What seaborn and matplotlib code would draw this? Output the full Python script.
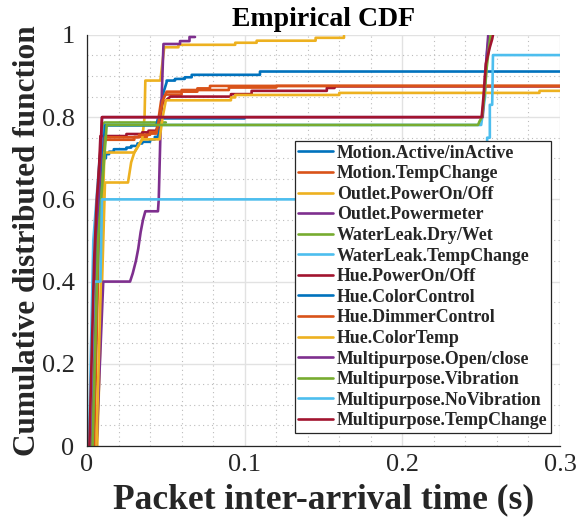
import matplotlib
matplotlib.use("Agg")
import matplotlib.pyplot as plt
from matplotlib.lines import Line2D
from matplotlib.ticker import MultipleLocator, FuncFormatter
import pandas as pd
import seaborn as sns

# ---- series names (legend order = draw order) ----
series_names = [
    "Motion.Active/inActive",
    "Motion.TempChange",
    "Outlet.PowerOn/Off",
    "Outlet.Powermeter",
    "WaterLeak.Dry/Wet",
    "WaterLeak.TempChange",
    "Hue.PowerOn/Off",
    "Hue.ColorControl",
    "Hue.DimmerControl",
    "Hue.ColorTemp",
    "Multipurpose.Open/close",
    "Multipurpose.Vibration",
    "Multipurpose.NoVibration",
    "Multipurpose.TempChange",
]

# ---- CDF vertices (inter-arrival time in s, cumulative fraction) ----
motion_active_t = [0.003, 0.006, 0.0105, 0.012, 0.012, 0.014, 0.014, 0.017, 0.017, 0.025, 0.025,
                   0.028, 0.028, 0.032, 0.032, 0.035, 0.035, 0.040, 0.040, 0.043, 0.043, 0.045,
                   0.0465, 0.0485, 0.0505, 0.0505, 0.0558, 0.0558, 0.062, 0.062, 0.0664, 0.0664,
                   0.1097, 0.1097, 0.3]
motion_active_F = [0.0, 0.5, 0.70, 0.70, 0.71, 0.71, 0.716, 0.716, 0.722, 0.722, 0.726,
                   0.726, 0.730, 0.730, 0.736, 0.736, 0.740, 0.740, 0.746, 0.746, 0.752, 0.752,
                   0.80, 0.86, 0.885, 0.889, 0.889, 0.893, 0.893, 0.897, 0.897, 0.903,
                   0.903, 0.911, 0.911]

motion_temp_t = [0.004, 0.007, 0.0105, 0.030, 0.030, 0.038, 0.038, 0.044, 0.0455, 0.047, 0.050,
                 0.060, 0.060, 0.090, 0.090, 0.120, 0.120, 0.3]
motion_temp_F = [0.0, 0.5, 0.745, 0.745, 0.752, 0.752, 0.760, 0.760, 0.80, 0.84, 0.855,
                 0.855, 0.866, 0.866, 0.872, 0.872, 0.876, 0.876]

outlet_onoff_t = [0.0065, 0.0114, 0.026, 0.028, 0.030, 0.035, 0.0365, 0.037, 0.0465, 0.049,
                  0.058, 0.058, 0.094, 0.094, 0.1076, 0.1076, 0.145, 0.145, 0.163, 0.163]
outlet_onoff_F = [0.0, 0.641, 0.641, 0.69, 0.714, 0.746, 0.80, 0.889, 0.889, 0.970,
                  0.970, 0.976, 0.976, 0.981, 0.981, 0.986, 0.986, 0.993, 0.993, 0.998]

outlet_power_t = [0.006, 0.0103, 0.0273, 0.029, 0.031, 0.0325, 0.034, 0.0355, 0.037, 0.045,
                  0.0455, 0.0465, 0.0485, 0.059, 0.059, 0.065, 0.065, 0.0685]
outlet_power_F = [0.0, 0.40, 0.40, 0.42, 0.45, 0.48, 0.52, 0.55, 0.571, 0.571,
                  0.60, 0.75, 0.978, 0.978, 0.985, 0.985, 0.995, 0.995]

water_drywet_t = [0.004, 0.0075, 0.011, 0.050]
water_drywet_F = [0.0, 0.55, 0.787, 0.787]

water_temp_t = [0.0012, 0.004, 0.008, 0.0115, 0.250, 0.2525, 0.2535, 0.255]
water_temp_F = [0.0, 0.5, 0.7, 0.781, 0.781, 0.85, 0.95, 1.0]

hue_onoff_t = [0.002, 0.005, 0.007, 0.0085, 0.025, 0.025, 0.035, 0.035, 0.039, 0.039, 0.044,
               0.046, 0.048, 0.053, 0.0913, 0.0913, 0.1044, 0.1044, 0.1521, 0.1521, 0.157,
               0.157, 0.3]
hue_onoff_F = [0.0, 0.45, 0.62, 0.754, 0.754, 0.759, 0.759, 0.763, 0.763, 0.767, 0.767,
               0.80, 0.835, 0.850, 0.850, 0.856, 0.856, 0.864, 0.864, 0.871, 0.871,
               0.875, 0.875]

hue_color_t = [0.003, 0.0065, 0.0115, 0.044, 0.045, 0.100]
hue_color_F = [0.0, 0.55, 0.780, 0.780, 0.797, 0.797]

hue_dimmer_t = [0.0045, 0.0075, 0.0115, 0.033, 0.033, 0.040, 0.040, 0.044, 0.046, 0.048, 0.0505,
                0.070, 0.070, 0.078, 0.078, 0.3]
hue_dimmer_F = [0.0, 0.5, 0.751, 0.751, 0.757, 0.757, 0.764, 0.764, 0.80, 0.84, 0.862,
                0.862, 0.870, 0.870, 0.876, 0.876]

hue_ctemp_t = [0.006, 0.0095, 0.011, 0.030, 0.035, 0.046, 0.048, 0.050, 0.0913, 0.0913, 0.094,
               0.094, 0.160, 0.160, 0.287, 0.287, 0.3]
hue_ctemp_F = [0.0, 0.5, 0.714, 0.714, 0.746, 0.746, 0.80, 0.841, 0.841, 0.848, 0.848,
               0.854, 0.854, 0.859, 0.859, 0.864, 0.864]

mp_open_t = [0.0025, 0.0055, 0.008, 0.0095, 0.251, 0.2525, 0.2545]
mp_open_F = [0.0, 0.5, 0.65, 0.80, 0.80, 0.9, 1.0]

mp_vib_t = [0.0035, 0.007, 0.0125, 0.248, 0.249, 0.2505, 0.252, 0.2535, 0.255, 0.256]
mp_vib_F = [0.0, 0.5, 0.781, 0.781, 0.79, 0.80, 0.85, 0.92, 0.97, 1.0]

mp_novib_t = [0.0015, 0.0045, 0.0085, 0.0095, 0.2538, 0.2538, 0.2555, 0.2555, 0.257, 0.2575, 0.3]
mp_novib_F = [0.0, 0.4, 0.4, 0.6, 0.6, 0.75, 0.75, 0.83, 0.83, 0.951, 0.951]

mp_temp_t = [0.0015, 0.0045, 0.0062, 0.0085, 0.0095, 0.2503, 0.2515, 0.253, 0.2555, 0.257, 0.2575]
mp_temp_F = [0.0, 0.45, 0.6, 0.72, 0.80, 0.80, 0.85, 0.93, 0.97, 0.99, 1.0]

series_t = [motion_active_t, motion_temp_t, outlet_onoff_t, outlet_power_t, water_drywet_t,
            water_temp_t, hue_onoff_t, hue_color_t, hue_dimmer_t, hue_ctemp_t,
            mp_open_t, mp_vib_t, mp_novib_t, mp_temp_t]
series_F = [motion_active_F, motion_temp_F, outlet_onoff_F, outlet_power_F, water_drywet_F,
            water_temp_F, hue_onoff_F, hue_color_F, hue_dimmer_F, hue_ctemp_F,
            mp_open_F, mp_vib_F, mp_novib_F, mp_temp_F]

# classic seven-colour cycle, repeated
base_colors = ["#0072BD", "#D95319", "#EDB120", "#7E2F8E", "#77AC30", "#4DBEEE", "#A2142F"]
colors = [base_colors[i % 7] for i in range(len(series_names))]

frames = []
for name, t, F in zip(series_names, series_t, series_F):
    frames.append(pd.DataFrame({"t": t, "F": F, "series": name}))
df = pd.concat(frames, ignore_index=True)

sns.set_theme(style="white")
plt.rcParams["font.family"] = ["Liberation Serif", "DejaVu Serif"]

fig = plt.figure(figsize=(5.77, 5.27), dpi=100)
ax = fig.add_axes([0.1508, 0.1537, 0.8197, 0.7800])

sns.lineplot(data=df, x="t", y="F", hue="series", hue_order=series_names,
             palette=colors, sort=False, estimator=None, linewidth=1.9,
             legend=False, ax=ax)

ax.set_xlim(0, 0.3)
ax.set_ylim(0, 1)
ax.xaxis.set_major_locator(MultipleLocator(0.1))
ax.xaxis.set_minor_locator(MultipleLocator(0.02))
ax.yaxis.set_major_locator(MultipleLocator(0.2))
ax.yaxis.set_minor_locator(MultipleLocator(0.05))
fmt = FuncFormatter(lambda v, p: f"{v:g}")
ax.xaxis.set_major_formatter(fmt)
ax.yaxis.set_major_formatter(fmt)

ax.set_axisbelow(True)
ax.grid(which="major", color="#e2e2e2", linewidth=1.0, linestyle="-")
ax.grid(which="minor", color="#bcbcbc", linewidth=0.8, linestyle=(0, (1, 3)))

for side in ("top", "right"):
    ax.spines[side].set_visible(False)
for side in ("left", "bottom"):
    ax.spines[side].set_color("#262626")
    ax.spines[side].set_linewidth(0.9)

ax.tick_params(which="major", direction="in", length=5, width=0.8, color="#262626",
               labelsize=19, labelcolor="#262626")
ax.tick_params(axis="x", which="major", pad=6)
ax.tick_params(axis="y", which="major", pad=9)
ax.tick_params(which="minor", length=0)

ax.set_title("Empirical CDF", fontsize=20, fontweight="bold", color="#000000", pad=6.5)
ax.set_xlabel("Packet inter-arrival time (s)", fontsize=25.5, fontweight="bold",
              color="#262626", labelpad=5)
ax.set_ylabel("Cumulative distributed function", fontsize=22.5, fontweight="bold",
              color="#262626", labelpad=0)

handles = [Line2D([0], [0], color=c, linewidth=1.9) for c in colors]
leg = ax.legend(handles, series_names, loc="lower right", bbox_to_anchor=(0.981, 0.032),
                borderaxespad=0, prop={"family": "Liberation Serif", "weight": "bold", "size": 12.9},
                frameon=True, fancybox=False, edgecolor="#262626", facecolor="white",
                framealpha=1, handlelength=1.95, handletextpad=0.2, labelspacing=0.2,
                borderpad=0.2)
leg.get_frame().set_linewidth(0.9)

fig.savefig("out.png", dpi=100)
